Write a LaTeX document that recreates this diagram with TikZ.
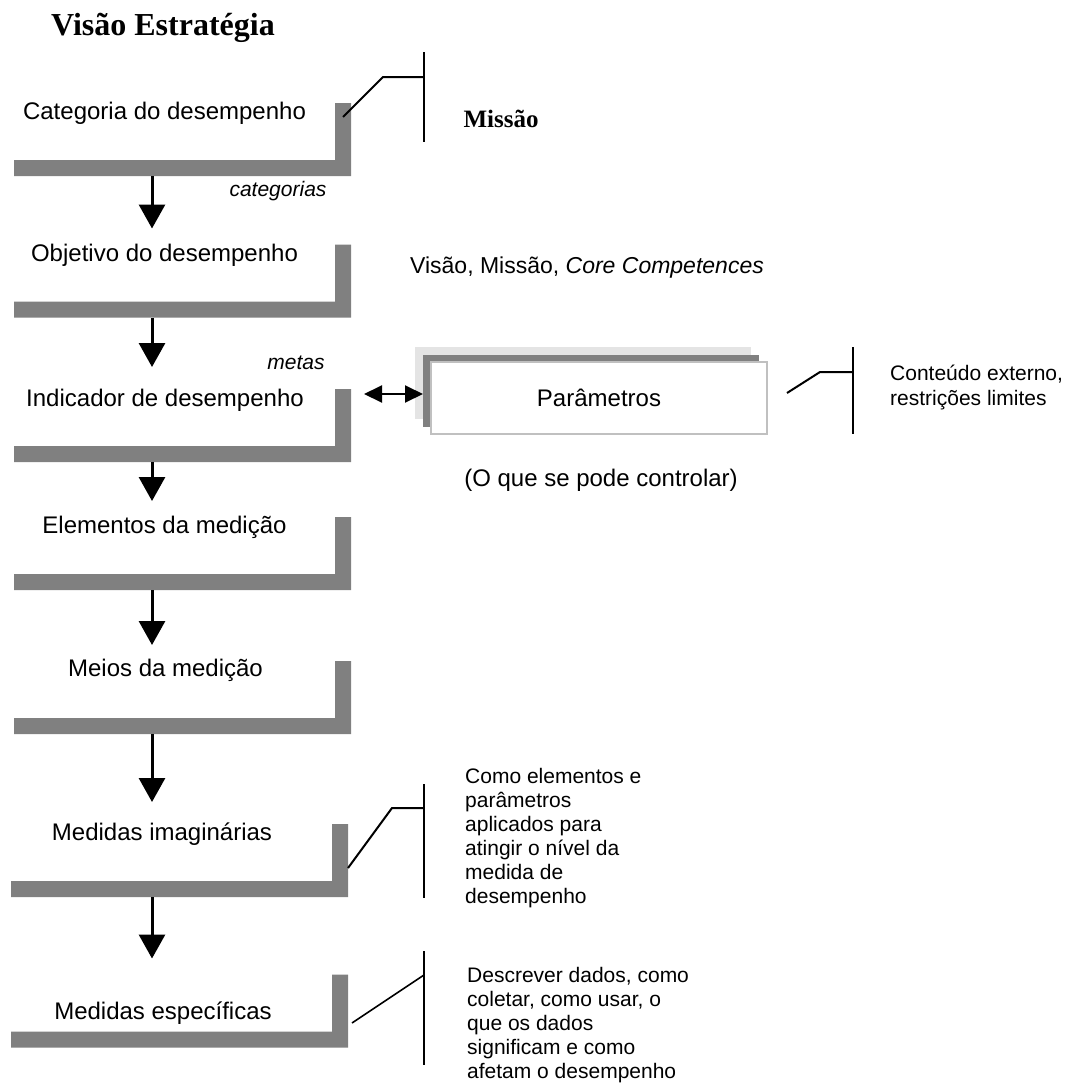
\documentclass[tikz,border=0pt]{standalone}
\usepackage{fontspec}
\setmainfont{Liberation Sans}
\newfontfamily\serifbf{Liberation Serif}
\usetikzlibrary{arrows.meta,calc}
\definecolor{barra}{HTML}{808080}
\definecolor{sombra}{HTML}{E4E4E4}
\definecolor{borda}{HTML}{C0C0C0}
\tikzset{
	etapa/.style={minimum width=337pt,minimum height=73pt,inner sep=0pt,outer sep=0pt},
	rotulo/.style={font=\fontsize{24}{28}\selectfont,inner sep=0pt},
	nota/.style={font=\fontsize{21}{24}\selectfont,align=left,anchor=north west,inner sep=0pt},
	caixa/.style={minimum width=336pt,minimum height=72pt,inner sep=0pt,outer sep=0pt},
	seta/.style={line width=3pt,-{Triangle[width=26pt,length=24pt]}},
	dupla/.style={line width=2pt,{Triangle[width=17pt,length=18pt]}-{Triangle[width=17pt,length=18pt]}},
	chave/.style={line width=2pt},
}
\begin{document}
\begin{tikzpicture}[x=1pt,y=-1pt]
		\useasboundingbox (0,0) rectangle (1067,1084);
		%titulo
		\draw (163,28) node[font=\serifbf\bfseries\fontsize{32}{36}\selectfont](titulo){Visão Estratégia};
		%etapas
		\draw (182.5,139.5) node[etapa](e-1){} (182.5,281) node[etapa](e-2){};
		\draw (182.5,425.5) node[etapa](e-3){} (182.5,553.5) node[etapa](e-4){};
		\draw (182.5,697.5) node[etapa](e-5){} (179.5,860.5) node[etapa](e-6){};
		\draw (179.5,1011) node[etapa](e-7){};
		\fill[barra] (e-1.south west) rectangle ([yshift=16pt]e-1.south east) (e-1.north east) rectangle ([xshift=-16pt]e-1.south east);
		\fill[barra] (e-2.south west) rectangle ([yshift=16pt]e-2.south east) (e-2.north east) rectangle ([xshift=-16pt]e-2.south east);
		\fill[barra] (e-3.south west) rectangle ([yshift=16pt]e-3.south east) (e-3.north east) rectangle ([xshift=-16pt]e-3.south east);
		\fill[barra] (e-4.south west) rectangle ([yshift=16pt]e-4.south east) (e-4.north east) rectangle ([xshift=-16pt]e-4.south east);
		\fill[barra] (e-5.south west) rectangle ([yshift=16pt]e-5.south east) (e-5.north east) rectangle ([xshift=-16pt]e-5.south east);
		\fill[barra] (e-6.south west) rectangle ([yshift=16pt]e-6.south east) (e-6.north east) rectangle ([xshift=-16pt]e-6.south east);
		\fill[barra] (e-7.south west) rectangle ([yshift=16pt]e-7.south east) (e-7.north east) rectangle ([xshift=-16pt]e-7.south east);
		\draw (164.5,113) node[rotulo](t-1){Categoria do desempenho};
		\draw (164.5,255) node[rotulo](t-2){Objetivo do desempenho};
		\draw (165,400) node[rotulo](t-3){Indicador de desempenho};
		\draw (164.5,527) node[rotulo](t-4){Elementos da medição};
		\draw (165.5,670) node[rotulo](t-5){Meios da medição};
		\draw (162,834) node[rotulo](t-6){Medidas imaginárias};
		\draw (163,1013) node[rotulo](t-7){Medidas específicas};
		%setas
		\coordinate (eixo) at (152,0);
		\draw[seta] (e-1.south -| eixo) -- ($(e-2.north -| eixo)+(0,-16)$);
		\draw[seta] (e-2.south -| eixo) -- ($(e-3.north -| eixo)+(0,-22)$);
		\draw[seta] (e-3.south -| eixo) -- ($(e-4.north -| eixo)+(0,-16)$);
		\draw[seta] (e-4.south -| eixo) -- ($(e-5.north -| eixo)+(0,-16)$);
		\draw[seta] (e-5.south -| eixo) -- ($(e-6.north -| eixo)+(0,-22)$);
		\draw[seta] (e-6.south -| eixo) -- ($(e-7.north -| eixo)+(0,-16)$);
		\draw (278,191) node[font=\itshape\fontsize{21}{24}\selectfont](l-1){categorias};
		\draw (296,363) node[font=\itshape\fontsize{21}{24}\selectfont](l-2){metas};
		%parametros
		\draw (583,383) node[caixa,fill=sombra](par-2){};
		\draw (591,390.5) node[caixa,fill=barra](par-1){};
		\draw (599,398) node[caixa,fill=white,draw=borda,line width=1.2pt,font=\fontsize{24}{28}\selectfont](par){Parâmetros};
		\coordinate (dp) at (364,394);
		\draw[dupla] (dp) -- (dp -| par-1.west);
		\draw (601,480) node[rotulo](ctrl){(O que se pode controlar)};
		\draw (587,268) node[font=\fontsize{23}{27}\selectfont](vmc){Visão, Missão, \textit{Core Competences}};
		\draw (501,119) node[font=\serifbf\bfseries\fontsize{25}{30}\selectfont](missao){Missão};
		%chaves
		\draw[chave] (424,52) -- (424,142);
		\draw[chave] (343,117) -- (383,77) -- (424,77);
		\draw[chave] (853,347) -- (853,434);
		\draw[chave] (787,393) -- (820,372) -- (853,372);
		\draw[chave] (424,784) -- (424,898);
		\draw[chave] (348,868) -- (392,808) -- (424,808);
		\draw[chave] (424,951) -- (424,1065);
		\draw[chave,line width=1.6pt] (352,1023) -- (424,975);
		%notas
		\draw (890,365) node[nota,font=\fontsize{21}{25}\selectfont](n-1){Conteúdo externo,\\restrições limites};
		\draw (465,768) node[nota](n-2){Como elementos e\\parâmetros\\aplicados para\\atingir o nível da\\medida de\\desempenho};
		\draw (467,967) node[nota](n-3){Descrever dados, como\\coletar, como usar, o\\que os dados\\significam e como\\afetam o desempenho};
	\end{tikzpicture}
\end{document}
